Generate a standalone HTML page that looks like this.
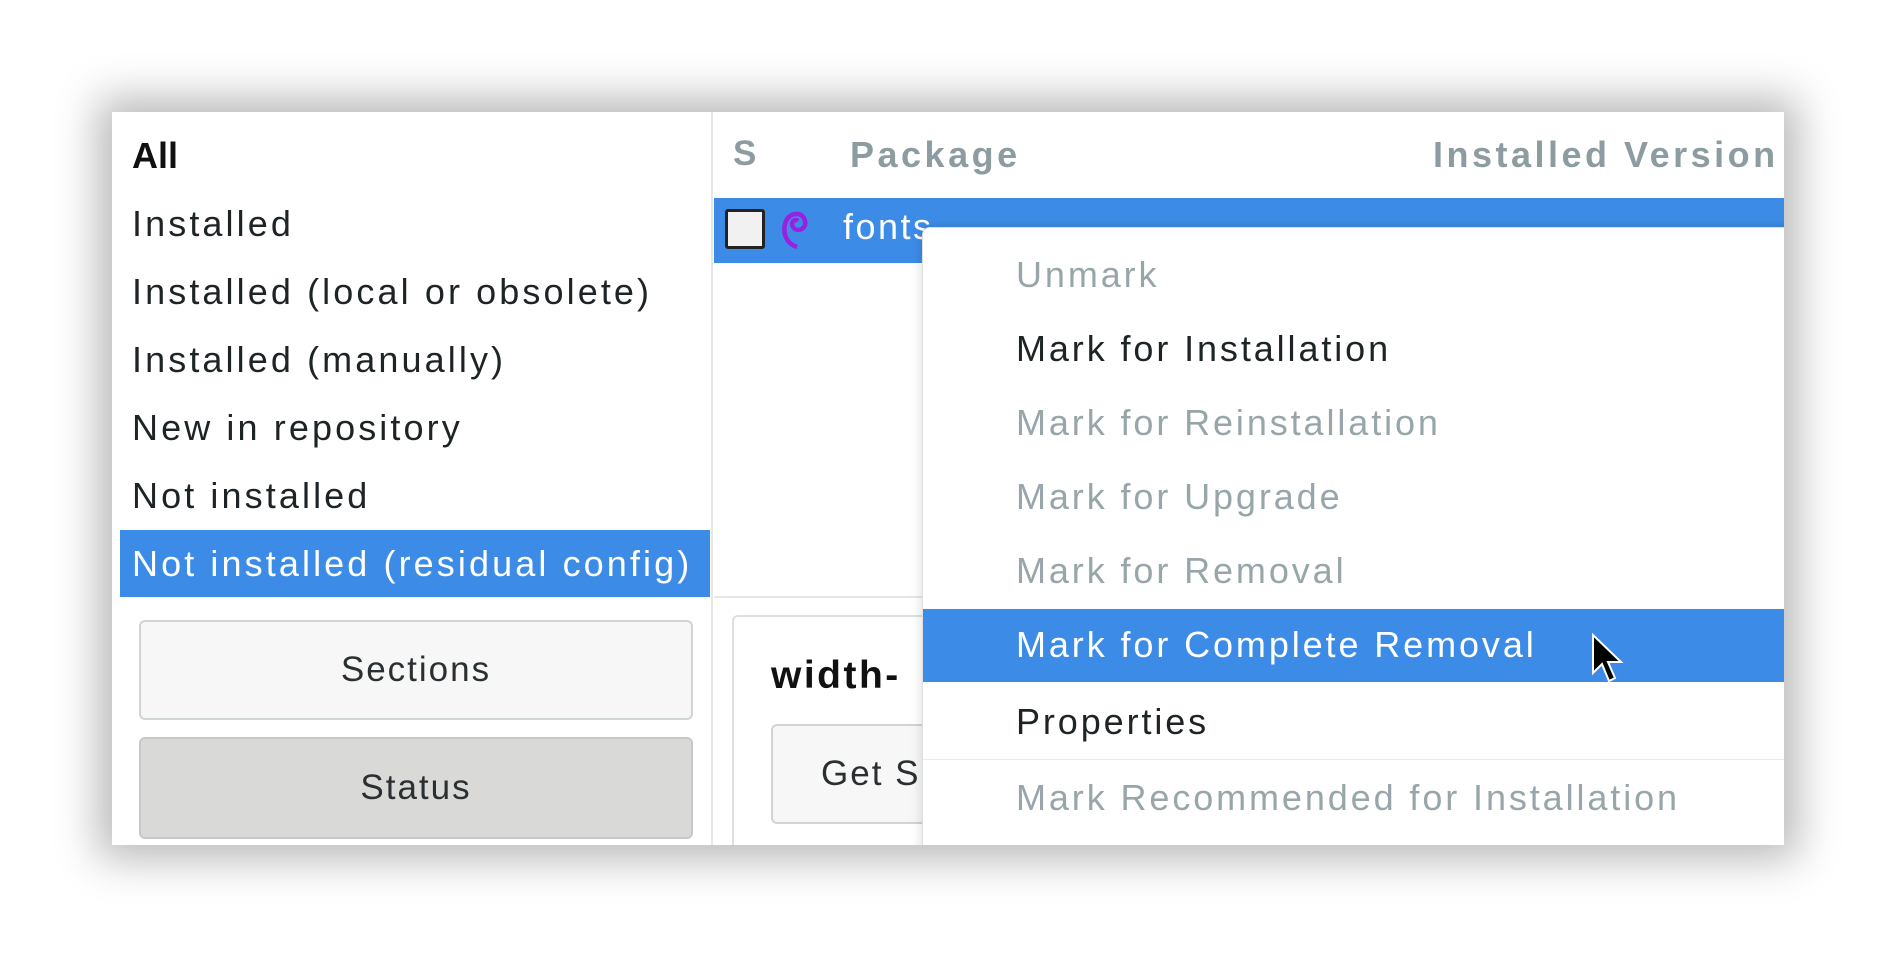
<!DOCTYPE html>
<html><head><style>
body{margin:0;width:1893px;height:953px;background:#fff;position:relative;overflow:hidden;font-family:"Liberation Sans","DejaVu Sans",sans-serif;}
.win{position:absolute;left:112px;top:112px;width:1672px;height:733px;background:#fff;box-shadow:0 0 40px 14px rgba(0,0,0,0.28);overflow:hidden;}
.abs{position:absolute;white-space:nowrap;}
.li{position:absolute;left:20px;font-size:36px;letter-spacing:3.1px;color:#1e2426;line-height:68px;}
.mi{position:absolute;left:93px;font-size:36px;letter-spacing:2.9px;line-height:60px;color:#98a6aa;}
</style></head><body>
<div class="win">
  <div class="li" style="top:10px;font-weight:bold;color:#111;letter-spacing:0">All</div>
  <div class="li" style="top:78px">Installed</div>
  <div class="li" style="top:146px">Installed (local or obsolete)</div>
  <div class="li" style="top:214px">Installed (manually)</div>
  <div class="li" style="top:282px">New in repository</div>
  <div class="li" style="top:350px">Not installed</div>
  <div class="abs" style="left:8px;top:418px;width:590px;height:67px;background:#3c8ce7"></div>
  <div class="li" style="top:418px;color:#fff">Not installed (residual config)</div>
  <div class="abs" style="left:27px;top:508px;width:550px;height:96px;border:2px solid #cfd4d6;border-radius:6px;background:#f7f7f7;text-align:center;line-height:96px;font-size:35px;letter-spacing:2px;color:#2a2f31">Sections</div>
  <div class="abs" style="left:27px;top:625px;width:550px;height:98px;border:2px solid #c6c9ca;border-radius:6px;background:#d9d9d8;text-align:center;line-height:98px;font-size:35px;letter-spacing:2px;color:#2a2f31">Status</div>
  <div class="abs" style="left:599px;top:0;width:2px;height:733px;background:#e4e6e7"></div>
  <div class="abs" style="left:621px;top:22px;font-size:35px;font-weight:bold;color:#8c9ca0">S</div>
  <div class="abs" style="left:738px;top:22px;font-size:36px;letter-spacing:3.5px;font-weight:bold;color:#8c9ca0">Package</div>
  <div class="abs" style="left:1321px;top:22px;font-size:36px;letter-spacing:3.5px;font-weight:bold;color:#8c9ca0">Installed Version</div>
  <div class="abs" style="left:602px;top:86px;width:1078px;height:65px;background:#3c8ce7"></div>
  <div class="abs" style="left:613px;top:97px;width:34px;height:34px;border:3px solid #222;border-radius:3px;background:#f1f1f1"></div>
  <svg class="abs" style="left:667px;top:95px" width="30" height="44" viewBox="0 0 30 44"><path d="M18 40 C6 36 3 24 7 14 C11 5 24 4 26 14 C28 22 18 26 14 20 C11 15 16 11 19 14" fill="none" stroke="#9b1fe0" stroke-width="4.5"/></svg>
  <div class="abs" style="left:731px;top:94px;font-size:36px;letter-spacing:2.5px;color:#fff">fonts-</div>
  <div class="abs" style="left:602px;top:484px;width:1078px;height:2px;background:#e4e6e7"></div>
  <div class="abs" style="left:620px;top:503px;width:1060px;height:240px;border:2px solid #dcdfe0;border-radius:6px"></div>
  <div class="abs" style="left:659px;top:542px;font-size:39px;letter-spacing:2.5px;font-weight:bold;color:#111">width-</div>
  <div class="abs" style="left:659px;top:612px;width:160px;height:96px;border:2px solid #cfd4d6;border-radius:6px;background:#f7f7f7;font-size:35px;letter-spacing:2px;line-height:96px;padding-left:48px;color:#2a2f31">Get S</div>
  <div class="abs" style="left:810px;top:115px;width:880px;height:640px;background:#fff;border:1px solid #dde0e1;border-radius:8px 0 0 0;box-shadow:0 0 12px rgba(0,0,0,0.15)">
    <div class="mi" style="top:17px">Unmark</div>
    <div class="mi" style="top:91px;color:#1e2426">Mark for Installation</div>
    <div class="mi" style="top:165px">Mark for Reinstallation</div>
    <div class="mi" style="top:239px">Mark for Upgrade</div>
    <div class="mi" style="top:313px">Mark for Removal</div>
    <div class="abs" style="left:0;top:381px;width:880px;height:73px;background:#3c8ce7"></div>
    <div class="mi" style="top:387px;color:#fff">Mark for Complete Removal</div>
    <svg class="abs" style="left:668px;top:405px" width="34" height="52" viewBox="0 0 17 26"><path d="M1 1 L1 20 L5.5 15.5 L9 24 L12 22.5 L8.5 14.5 L15 14.5 Z" fill="#000" stroke="#fff" stroke-width="1"/></svg>
    <div class="mi" style="top:464px;color:#1e2426">Properties</div>
    <div class="abs" style="left:0;top:531px;width:880px;height:1px;background:#e8eaeb"></div>
    <div class="mi" style="top:540px">Mark Recommended for Installation</div>
  </div>
</div>
</body></html>
